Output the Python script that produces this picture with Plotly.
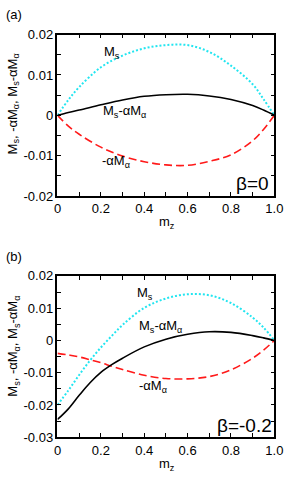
import plotly.graph_objects as go

# ---------------- data ----------------
x_a = [0, 0.05, 0.1, 0.2, 0.3, 0.4, 0.5, 0.6, 0.7, 0.8, 0.9, 0.95, 1.0]
ms_a = [0, 0.0038, 0.0070, 0.0119, 0.0148, 0.0166, 0.0174, 0.0174, 0.0157, 0.0123, 0.0077, 0.0040, 0]
diff_a = [0, 0.0007, 0.0013, 0.0026, 0.0038, 0.0047, 0.0051, 0.0052, 0.0048, 0.0039, 0.0024, 0.0013, 0]
neg_a = [0, -0.0027, -0.0047, -0.0079, -0.0101, -0.0115, -0.0123, -0.0124, -0.0114, -0.0098, -0.0063, -0.0035, 0]

x_b = [0, 0.05, 0.1, 0.15, 0.2, 0.25, 0.3, 0.4, 0.5, 0.6, 0.7, 0.8, 0.9, 0.95, 1.0]
ms_b = [-0.0200, -0.0155, -0.0107, -0.0062, -0.0022, 0.0014, 0.0048, 0.0101, 0.0130, 0.0143, 0.0140, 0.0116, 0.0071, 0.0040, 0]
diff_b = [-0.0245, -0.0212, -0.0170, -0.0131, -0.0099, -0.0075, -0.0055, -0.0020, 0.0004, 0.0019, 0.0027, 0.0025, 0.0015, 0.0008, 0.0]
neg_b = [-0.0040, -0.0045, -0.0051, -0.0060, -0.0069, -0.0080, -0.0090, -0.0108, -0.0118, -0.0119, -0.0112, -0.0091, -0.0055, -0.0030, 0]

x_ticks = [0, 0.2, 0.4, 0.6, 0.8, 1.0]
x_ticktext = ["0", "0.2", "0.4", "0.6", "0.8", "1.0"]
ya_ticks = [0.02, 0.01, 0, -0.01, -0.02]
ya_ticktext = ["0.02", "0.01", "0", "-0.01", "-0.02"]
yb_ticks = [0.02, 0.01, 0, -0.01, -0.02, -0.03]
yb_ticktext = ["0.02", "0.01", "0", "-0.01", "-0.02", "-0.03"]

W, H = 291, 484
FONT = "Liberation Sans, Arial, sans-serif"

fig = go.Figure()

def add_panel(xs, ms, diff, neg, xa, ya):
    fig.add_trace(go.Scatter(x=xs, y=ms, mode="lines", line=dict(color="#22e5f0", width=2, dash="2px,2px", shape="spline"),
                             xaxis=xa, yaxis=ya, showlegend=False))
    fig.add_trace(go.Scatter(x=xs, y=neg, mode="lines", line=dict(color="#ff1a1a", width=1.6, dash="8px,4px", shape="spline"),
                             xaxis=xa, yaxis=ya, showlegend=False))
    fig.add_trace(go.Scatter(x=xs, y=diff, mode="lines", line=dict(color="black", width=1.6, shape="spline"),
                             xaxis=xa, yaxis=ya, showlegend=False))

add_panel(x_a, ms_a, diff_a, neg_a, "x", "y")
add_panel(x_b, ms_b, diff_b, neg_b, "x2", "y2")

xl, xr = 56 / W, 283 / W
def ydom(top, bot):
    return [1 - bot / H, 1 - top / H]

axis_common = dict(showline=True, linecolor="black", linewidth=1.5, mirror="allticks", ticks="inside",
                   ticklen=4, tickwidth=1, tickcolor="black", showgrid=False, zeroline=False,
                   ticklabeloverflow="allow",
                   tickfont=dict(family=FONT, size=13, color="black"))

fig.update_layout(
    width=W, height=H, margin=dict(l=0, r=0, t=0, b=0),
    paper_bgcolor="white", plot_bgcolor="white",
    font=dict(family=FONT, size=13, color="black"),
    xaxis=dict(domain=[xl, xr], range=[0, 1], anchor="y", tickvals=x_ticks, ticktext=x_ticktext,
               minor=dict(dtick=0.1, ticks="inside", ticklen=4, tickcolor="black"), **axis_common),
    yaxis=dict(domain=ydom(28.5, 195), range=[-0.02, 0.02], anchor="x", tickvals=ya_ticks, ticktext=ya_ticktext,
               minor=dict(dtick=0.005, ticks="inside", ticklen=4, tickcolor="black"), **axis_common),
    xaxis2=dict(domain=[xl, xr], range=[0, 1], anchor="y2", tickvals=x_ticks, ticktext=x_ticktext,
                minor=dict(dtick=0.1, ticks="inside", ticklen=4, tickcolor="black"), **axis_common),
    yaxis2=dict(domain=ydom(277.5, 444), range=[-0.03, 0.02], anchor="x2", tickvals=yb_ticks, ticktext=yb_ticktext,
                minor=dict(dtick=0.005, ticks="inside", ticklen=4, tickcolor="black"), **axis_common),
)

def ann(text, px, py, size=13, angle=0):
    fig.add_annotation(text=text, x=px / W, y=1 - py / H, xref="paper", yref="paper",
                       showarrow=False, font=dict(family=FONT, size=size, color="black"),
                       textangle=angle, xanchor="center", yanchor="middle")

ytitle = "M<sub>s</sub>, -αM<sub>α</sub>, M<sub>s</sub>-αM<sub>α</sub>"
ann("(a)", 10, 8)
ann("(b)", 10, 257)
ann(ytitle, 10, 100, angle=-90)
ann(ytitle, 10, 350, angle=-90)
ann("m<sub>z</sub>", 171, 222)
ann("m<sub>z</sub>", 171, 472)

ann("M<sub>s</sub>", 113, 47)
ann("M<sub>s</sub>-αM<sub>α</sub>", 126, 108)
ann("-αM<sub>α</sub>", 117, 159)
ann("β=0", 260, 182, size=19)

ann("M<sub>s</sub>", 148, 296)
ann("M<sub>s</sub>-αM<sub>α</sub>", 164, 330)
ann("-αM<sub>α</sub>", 156, 392)
ann("β=-0.2", 252, 432, size=19)

fig.write_html("out.html", config={"displayModeBar": False},
               post_script="document.body.style.margin='0';document.body.style.padding='0';")
